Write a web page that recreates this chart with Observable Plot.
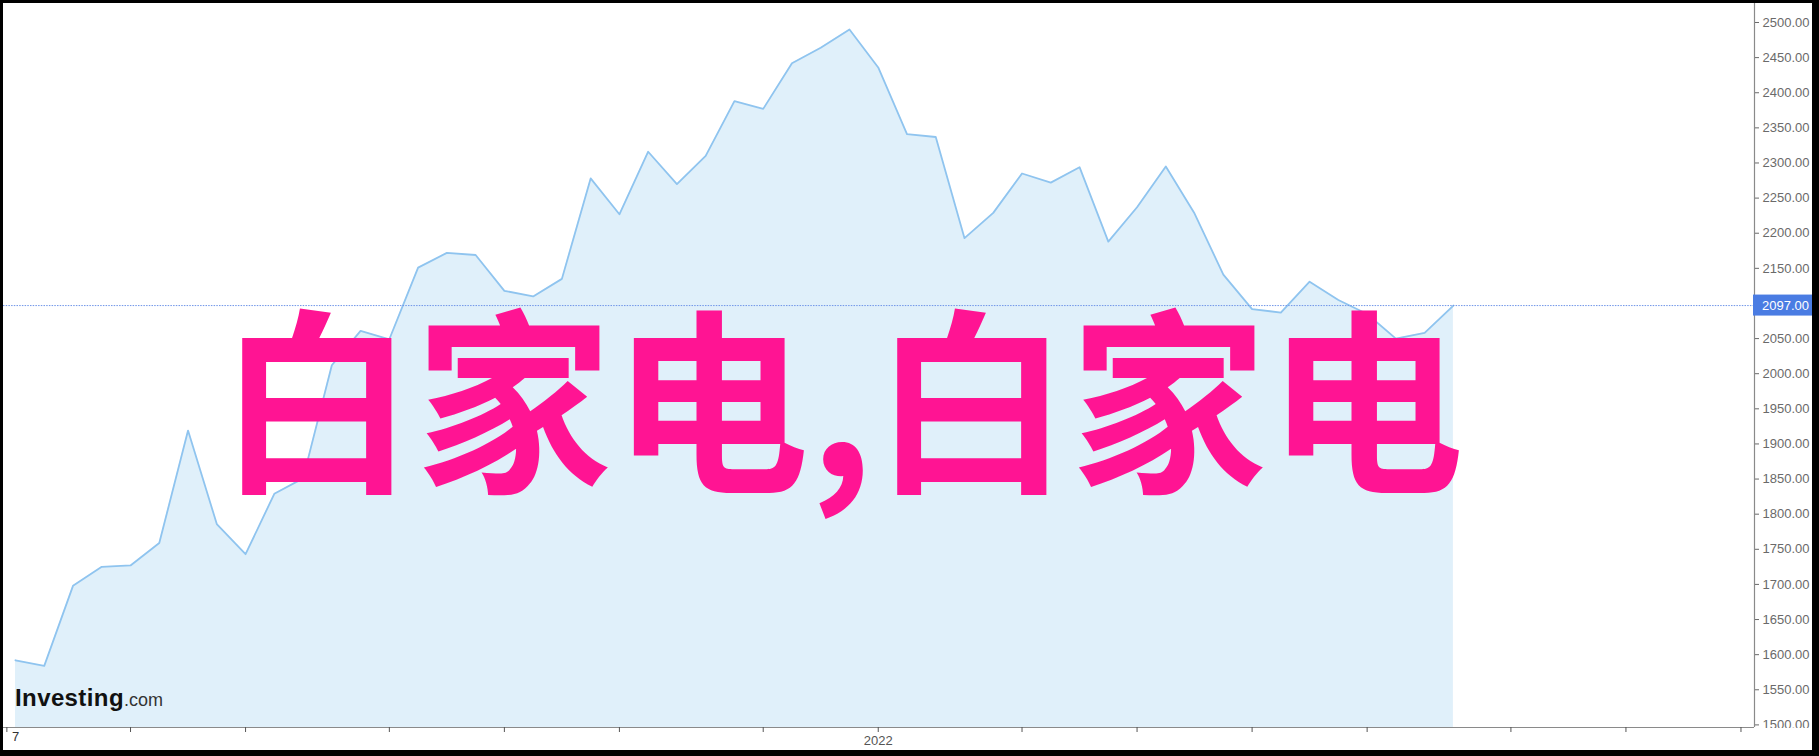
<!DOCTYPE html>
<html>
<head>
<meta charset="utf-8">
<script src="https://cdn.jsdelivr.net/npm/d3@7"></script>
<script src="https://cdn.jsdelivr.net/npm/@observablehq/plot@0.6"></script>
<style>
  html, body { margin: 0; padding: 0; background: #fff; overflow: hidden; }
  #wrap { position: relative; width: 1819px; height: 756px; }
  #frame { position: absolute; left: 0; top: 0; width: 1819px; height: 756px; box-sizing: border-box;
           border-left: 3px solid #000; border-top: 3px solid #000; border-right: 7px solid #000; border-bottom: 6px solid #000;
           pointer-events: none; }
  #cut { position: absolute; left: 1755px; top: 728px; width: 60px; height: 24px; background: #fff; }
</style>
</head>
<body>
<div id="wrap">
  <div id="chart"></div>
  <div id="cut"></div>
  <div id="frame"></div>
</div>
<script>
const weeks = d3.range(51);
const prices = [1592, 1584, 1698, 1725, 1727, 1759, 1919, 1786, 1743, 1829,
                1851, 2012, 2061, 2049, 2151, 2172, 2169, 2118, 2110, 2135,
                2278, 2227, 2316, 2270, 2310, 2388, 2377, 2442, 2464, 2490,
                2436, 2341, 2337, 2193, 2229, 2285, 2272, 2294, 2188, 2237,
                2295, 2228, 2141, 2092, 2087, 2131, 2105, 2085, 2050, 2058, 2097];
const lastPrice = 2097;
// x-axis ticks (week positions) and labels
const xTicks = [-0.3, 4, 8, 13, 17, 21, 26, 30, 35, 39, 43, 47, 52, 56, 60];
const xTickLabels = {30: "2022"};
const firstLabel = "7";
// y-axis ticks
const yTicks = d3.range(1500, 2501, 50);
const watermark = "白家电,白家电";

const xDomain = [-0.417, 60.47];
const yDomain = [1496.3, 2527.05];
const font = "'Liberation Sans', Arial, sans-serif";

const plot = Plot.plot({
  width: 1819,
  height: 756,
  marginLeft: 3,
  marginRight: 65,
  marginTop: 3,
  marginBottom: 29,
  style: { fontFamily: font, background: "#fff" },
  x: { domain: xDomain, axis: null },
  y: { domain: yDomain, axis: null },
  marks: [
    Plot.areaY(prices, { x: weeks, y: prices, fill: "#e0f0fa", clip: true }),
    Plot.lineY(prices, { x: weeks, y: prices, stroke: "#8fc4ef", strokeWidth: 1.8 }),
    Plot.ruleY([lastPrice], { stroke: "#6f95e8", strokeWidth: 1, strokeDasharray: "1.5,1.2" }),
    Plot.ruleX([xDomain[1]], { stroke: "#8a8a8a", strokeWidth: 1.2 }),
    Plot.ruleY([yDomain[0]], { stroke: "#8a8a8a", strokeWidth: 1.2 }),
    Plot.axisY({ anchor: "right", ticks: yTicks, tickFormat: d => d.toFixed(2),
                 tickSize: 4, tickPadding: 4, fontSize: 13, color: "#6a6a6a" }),
    Plot.axisX({ anchor: "bottom", ticks: xTicks, tickFormat: d => xTickLabels[d] ?? "",
                 tickSize: 5, tickPadding: 3, fontSize: 13, color: "#555" }),
    Plot.text([firstLabel], { x: [0], frameAnchor: "bottom", dy: 13, fontSize: 13, fill: "#333" })
  ]
});

document.getElementById("chart").appendChild(plot);

const svg = d3.select(plot);
const yScale = plot.scale("y");
const yLast = yScale.apply(lastPrice);

// last price badge on the right axis
const badge = svg.append("g").attr("text-anchor", "start");
badge.append("rect").attr("x", 1753).attr("y", yLast - 10.5).attr("width", 66).attr("height", 21).attr("fill", "#4a7ce3");
badge.append("text").attr("x", 1762).attr("y", yLast).attr("dy", "0.35em")
  .attr("fill", "#fff").attr("font-size", 13).attr("font-family", font).text(lastPrice.toFixed(2));

// brand logo
const logo = svg.append("text").attr("text-anchor", "start").attr("x", 15).attr("y", 706).attr("font-family", font);
logo.append("tspan").attr("font-size", 24).attr("font-weight", "bold").attr("letter-spacing", 0.4).attr("fill", "#111").text("Investing");
logo.append("tspan").attr("font-size", 18).attr("fill", "#333").text(".com");

// watermark
svg.append("text").attr("text-anchor", "start").attr("x", 218).attr("y", 477)
  .attr("font-family", "'Noto Sans CJK SC', sans-serif").attr("font-size", 197).attr("font-weight", "bold")
  .attr("fill", "#ff1493").text(watermark);
</script>
</body>
</html>
